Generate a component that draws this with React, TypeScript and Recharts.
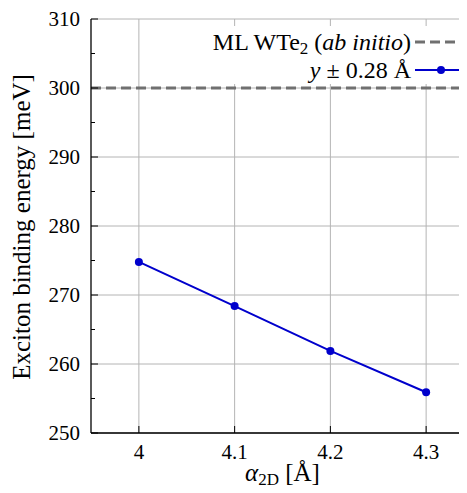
import { LineChart, Line, XAxis, YAxis, CartesianGrid, ReferenceLine, Legend } from "recharts";

// lattice parameter alpha_2D [Å] vs exciton binding energy [meV]
const alpha = [4.0, 4.1, 4.2, 4.3];
const bindingEnergy = [274.8, 268.4, 261.9, 255.9];
const abInitio = 300;

const xTicks = [4, 4.1, 4.2, 4.3];
const yMajor = [250, 260, 270, 280, 290, 300, 310];
const yTicks = [250, 255, 260, 265, 270, 275, 280, 285, 290, 295, 300, 305, 310];

const data = alpha.map((x, i) => ({ x, y: bindingEnergy[i] }));

const FONT = '"Liberation Serif", "DejaVu Serif", serif';
const BLUE = "#0000cc";
const GREY = "#707070";

const BottomTick = ({ x, y, payload }: any) => (
  <g>
    <line x1={x} x2={x} y1={y} y2={y - 7} stroke="#000" />
    <text x={x} y={y + 26} textAnchor="middle" fontFamily={FONT} fontSize={21} fill="#000">
      {payload.value}
    </text>
  </g>
);

const TopTick = ({ x, y }: any) => <line x1={x} x2={x} y1={y} y2={y + 7} stroke="#000" />;

const LeftTick = ({ x, y, payload }: any) => {
  const major = payload.value % 10 === 0;
  return (
    <g>
      <line x1={x} x2={x + (major ? 7 : 4)} y1={y} y2={y} stroke="#000" />
      {major && (
        <text x={x - 11} y={y + 7} textAnchor="end" fontFamily={FONT} fontSize={21} fill="#000">
          {payload.value}
        </text>
      )}
    </g>
  );
};

const RightTick = ({ x, y, payload }: any) => {
  const major = payload.value % 10 === 0;
  return <line x1={x} x2={x - (major ? 7 : 4)} y1={y} y2={y} stroke="#000" />;
};

const YLabel = ({ viewBox }: any) => {
  const cy = viewBox ? viewBox.y + viewBox.height / 2 : 218;
  return (
    <text
      transform={`translate(13, ${cy + 1}) rotate(-90)`}
      textAnchor="middle"
      dominantBaseline="central"
      fontFamily={FONT}
      fontSize={25}
      fill="#000"
    >
      Exciton binding energy [meV]
    </text>
  );
};

const XLabel = ({ viewBox }: any) => {
  const cx = viewBox ? viewBox.x + viewBox.width / 2 : 275;
  return (
    <text x={cx} y={473} textAnchor="middle" fontFamily={FONT} fontSize={25} fill="#000">
      <tspan fontStyle="italic">α</tspan>
      <tspan fontSize={17} dy={4}>2D</tspan>
      <tspan dy={-4}> [Å]</tspan>
    </text>
  );
};

const legendRow = { display: "flex", justifyContent: "flex-end", alignItems: "center", height: 28, gap: 4 } as const;

const LegendBox = () => (
  <div style={{ background: "#fff", padding: "2px 7px 0 0", fontFamily: FONT, fontSize: 24, color: "#000", lineHeight: 1 }}>
    <div style={legendRow}>
      <span>
        ML WTe<span style={{ fontSize: 17, verticalAlign: -4, lineHeight: 0 }}>2</span> (<i>ab initio</i>)
      </span>
      <svg width={52} height={12}>
        <line x1={0} x2={52} y1={6} y2={6} stroke={GREY} strokeWidth={3} strokeDasharray="10 5" />
      </svg>
    </div>
    <div style={legendRow}>
      <span>
        <i>y</i> ± 0.28 Å
      </span>
      <svg width={52} height={12}>
        <line x1={0} x2={52} y1={6} y2={6} stroke={BLUE} strokeWidth={2} />
        <circle cx={26} cy={6} r={4} fill={BLUE} />
      </svg>
    </div>
  </div>
);

export default function App() {
  return (
    <div style={{ width: 459, height: 485, overflow: "hidden" }}>
      <LineChart width={476} height={485} data={data} margin={{ top: 11, right: 10, bottom: 0, left: 0 }}>
        <CartesianGrid stroke="#b4b4b4" horizontalValues={yMajor} verticalValues={xTicks} />
        <XAxis
          dataKey="x"
          type="number"
          domain={[3.95, 4.35]}
          ticks={xTicks}
          interval={0}
          height={60}
          tickSize={0}
          tickMargin={0}
          tickLine={false}
          tick={<BottomTick />}
          axisLine={{ stroke: "#000", strokeWidth: 1.3 }}
          label={{ content: <XLabel /> }}
        />
        <XAxis
          xAxisId="top"
          orientation="top"
          dataKey="x"
          type="number"
          domain={[3.95, 4.35]}
          ticks={xTicks}
          interval={0}
          height={0}
          tickSize={0}
          tickMargin={0}
          tickLine={false}
          tick={<TopTick />}
          axisLine={{ stroke: "#000", strokeWidth: 1.3 }}
        />
        <YAxis
          dataKey="y"
          type="number"
          domain={[250, 310]}
          ticks={yTicks}
          interval={0}
          width={83}
          tickSize={0}
          tickMargin={0}
          tickLine={false}
          tick={<LeftTick />}
          axisLine={{ stroke: "#000", strokeWidth: 1.3 }}
          label={{ content: <YLabel /> }}
        />
        <YAxis
          yAxisId="right"
          orientation="right"
          dataKey="y"
          type="number"
          domain={[250, 310]}
          ticks={yTicks}
          interval={0}
          width={0}
          tickSize={0}
          tickMargin={0}
          tickLine={false}
          tick={<RightTick />}
          axisLine={{ stroke: "#000", strokeWidth: 1.3 }}
        />
        <ReferenceLine y={abInitio} stroke={GREY} strokeWidth={3} strokeDasharray="10 5" />
        <Line
          dataKey="y"
          stroke={BLUE}
          strokeWidth={2}
          dot={{ r: 4, fill: BLUE, stroke: BLUE, strokeWidth: 0 }}
          isAnimationActive={false}
        />
        <Legend
          layout="vertical"
          align="center"
          verticalAlign="middle"
          wrapperStyle={{ left: 192, top: 18, width: 274 }}
          content={<LegendBox />}
        />
      </LineChart>
    </div>
  );
}
